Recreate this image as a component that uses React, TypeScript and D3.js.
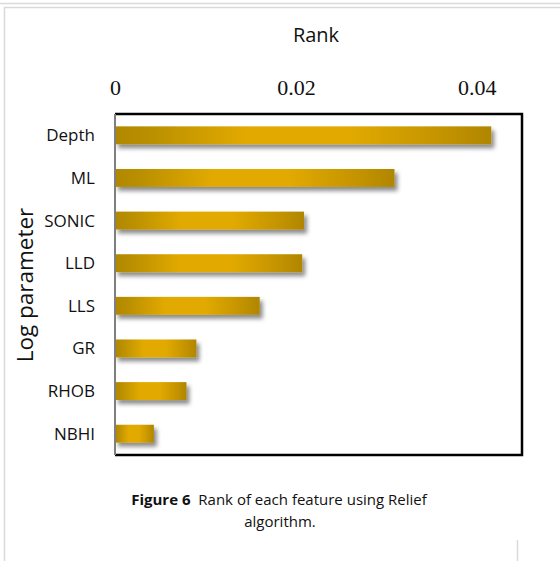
import React, { useEffect, useRef } from 'react';
import * as d3 from 'd3';

const parameters = ['Depth', 'ML', 'SONIC', 'LLD', 'LLS', 'GR', 'RHOB', 'NBHI'];
const ranks = [0.0416, 0.0309, 0.0209, 0.0207, 0.016, 0.009, 0.0079, 0.0043];
const tickValues = [0, 0.02, 0.04];
const tickLabels = ['0', '0.02', '0.04'];

const sans = '"Open Sans", "Noto Sans", sans-serif';

export default function App() {
    const ref = useRef<SVGSVGElement | null>(null);

    useEffect(() => {
        const svg = d3.select(ref.current);
        svg.selectAll('*').remove();

        const left = 115, right = 522, top = 114, bottom = 455;

        const xScale = d3.scaleLinear().domain([0, 0.045]).range([left, right]);
        const yScale = d3.scaleBand()
            .domain(parameters)
            .range([top, bottom])
            .paddingInner(0.58)
            .paddingOuter(0.29);

        const defs = svg.append('defs');
        const grad = defs.append('linearGradient')
            .attr('id', 'gold')
            .attr('x1', '0%').attr('x2', '100%')
            .attr('y1', '0%').attr('y2', '0%');
        [['0%', '#b08800'], ['10%', '#bb9000'], ['35%', '#e2aa00'], ['62%', '#e2aa00'], ['88%', '#c29200'], ['100%', '#b08600']]
            .forEach(([o, c]) => grad.append('stop').attr('offset', o).attr('stop-color', c));
        const shadow = defs.append('filter')
            .attr('id', 'shadow')
            .attr('x', '-10%').attr('y', '-30%')
            .attr('width', '130%').attr('height', '190%');
        shadow.append('feDropShadow')
            .attr('dx', 3).attr('dy', 4)
            .attr('stdDeviation', 2.2)
            .attr('flood-color', '#000')
            .attr('flood-opacity', 0.45);

        // page frame
        svg.append('line').attr('x1', 0).attr('x2', 560).attr('y1', 3.5).attr('y2', 3.5)
            .attr('stroke', '#d9d9d9').attr('stroke-width', 1.5);
        svg.append('path').attr('d', 'M4.5,561V7.5H560')
            .attr('fill', 'none').attr('stroke', '#d9d9d9').attr('stroke-width', 1.5);
        svg.append('line').attr('x1', 517.5).attr('x2', 517.5).attr('y1', 540).attr('y2', 561)
            .attr('stroke', '#d9d9d9').attr('stroke-width', 1.5);

        // rank title
        svg.append('text')
            .attr('x', 316).attr('y', 41.5)
            .attr('text-anchor', 'middle')
            .attr('font-family', sans).attr('font-size', 20)
            .attr('fill', '#111')
            .text('Rank');

        // top tick labels
        const axis = d3.axisTop(xScale)
            .tickValues(tickValues)
            .tickSize(0)
            .tickFormat((d, i) => tickLabels[i]);
        const axisG = svg.append('g')
            .attr('transform', 'translate(0, 95)')
            .call(axis);
        axisG.select('.domain').remove();
        axisG.selectAll('text')
            .attr('dy', 0).attr('y', 0)
            .attr('font-family', '"Liberation Serif", "Times New Roman", serif')
            .attr('font-size', 22)
            .attr('fill', '#111');

        // bars
        svg.selectAll('rect.bar')
            .data(parameters).enter()
            .append('rect')
            .attr('class', 'bar')
            .attr('x', xScale(0))
            .attr('y', d => yScale(d) as number)
            .attr('width', (d, i) => xScale(ranks[i]) - xScale(0))
            .attr('height', yScale.bandwidth())
            .attr('fill', 'url(#gold)')
            .attr('filter', 'url(#shadow)');

        // plot frame
        svg.append('path')
            .attr('d', `M${left},${top}H${right}V${bottom}H${left}`)
            .attr('fill', 'none').attr('stroke', '#000').attr('stroke-width', 2.5);
        svg.append('line')
            .attr('x1', left).attr('x2', left).attr('y1', top).attr('y2', bottom)
            .attr('stroke', '#7f7f7f').attr('stroke-width', 2);

        // category labels
        svg.selectAll('text.cat')
            .data(parameters).enter()
            .append('text')
            .attr('class', 'cat')
            .attr('x', 95)
            .attr('y', d => (yScale(d) as number) + yScale.bandwidth() / 2 + 6)
            .attr('text-anchor', 'end')
            .attr('font-family', sans).attr('font-size', 17)
            .attr('fill', '#111')
            .text(d => d);

        // y-axis label
        svg.append('text')
            .attr('transform', 'translate(33, 285) rotate(-90)')
            .attr('text-anchor', 'middle')
            .attr('font-family', sans).attr('font-size', 22.5)
            .attr('fill', '#111')
            .text('Log parameter');

        // caption
        const cap = svg.append('text')
            .attr('x', 279).attr('y', 505)
            .attr('text-anchor', 'middle')
            .attr('font-family', sans).attr('font-size', 15)
            .attr('fill', '#111');
        cap.append('tspan').attr('font-weight', 'bold').text('Figure 6');
        cap.append('tspan').text('\u00a0 Rank of each feature using Relief');
        svg.append('text')
            .attr('x', 280).attr('y', 527)
            .attr('text-anchor', 'middle')
            .attr('font-family', sans).attr('font-size', 15)
            .attr('fill', '#111')
            .text('algorithm.');
    }, []);

    return (
        <div>
            <svg ref={ref} width={560} height={561}
                style={{ position: 'absolute', left: 0, top: 0, background: '#fff' }} />
        </div>
    );
}
